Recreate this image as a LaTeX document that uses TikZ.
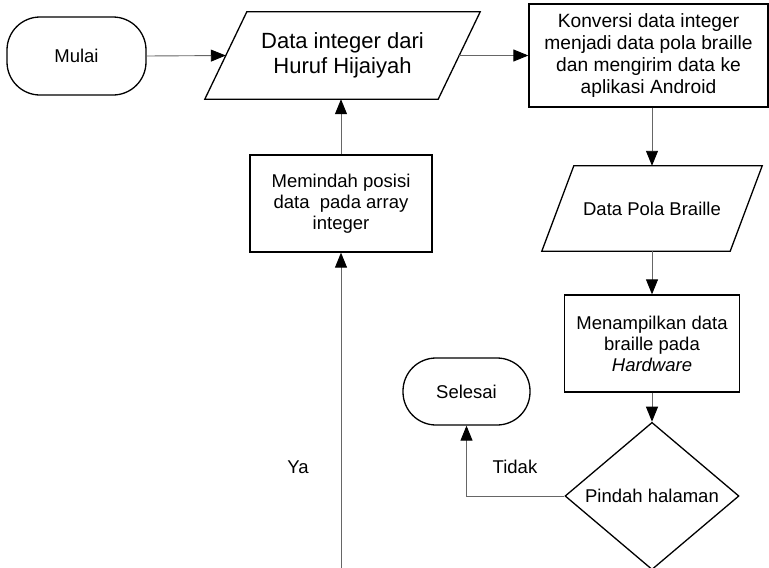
\documentclass[tikz,border=0pt]{standalone}
\usepackage{fontspec}
\setmainfont{Liberation Sans}
\usetikzlibrary{shapes.geometric,arrows.meta}

\tikzset{
    txt/.style={font=\fontsize{18.5}{21}\selectfont, align=center},
    shapeline/.style={draw, line width=1.3pt},
    terminal/.style={txt, shapeline, rectangle, rounded corners=33pt, inner sep=0pt},
    prosesbox/.style={txt, shapeline, rectangle, inner sep=0pt},
    databox/.style={txt, rectangle, inner sep=0pt},
    decisionbox/.style={txt, shapeline, diamond, inner sep=0pt},
    flow/.style={draw=black!60, line width=0.9pt, -{Triangle[length=15pt,width=12pt,color=black]}},
    plainflow/.style={draw=black!60, line width=0.9pt},
    labeltxt/.style={txt, fill=white, inner sep=2pt}
}

\begin{document}
\begin{tikzpicture}[x=1pt, y=-1pt]

    \useasboundingbox (0,0) rectangle (769,568);

    % bentuk
    \node[terminal, minimum width=139pt, minimum height=78pt] (mulai) at (76.5,56) {Mulai};

    \node[databox, minimum width=233pt, minimum height=87pt, font=\fontsize{22}{25}\selectfont]
          (dataint) at (342.5,55.5) {Data integer dari\\Huruf Hijaiyah};

    \node[prosesbox, minimum width=239pt, minimum height=103pt, font=\fontsize{19.2}{22}\selectfont]
          (konversi) at (648.5,55.5)
          {Konversi data integer\\menjadi data pola braille\\dan mengirim data ke\\aplikasi Android};

    \node[prosesbox, minimum width=182pt, minimum height=97pt] (pindah) at (341,203.5)
          {Memindah posisi\\data\ \ pada array\\integer};

    \node[databox, minimum width=188pt, minimum height=85pt] (polabraille) at (652,208.5)
          {Data Pola Braille};

    \node[prosesbox, minimum width=175pt, minimum height=97pt] (tampil) at (652,343.5)
          {Menampilkan data\\braille pada\\\textit{Hardware}};

    \node[terminal, minimum width=127pt, minimum height=67pt] (selesai) at (466.5,391.5) {Selesai};

    \node[decisionbox, minimum width=174pt, minimum height=96pt] (halaman) at (652,496)
          {Pindah halaman};

    % jajar genjang untuk data
    \foreach \nm/\sl in {dataint/21, polabraille/16}
        \draw[shapeline] ([xshift=-\sl pt]\nm.south west) -- ([xshift=\sl pt]\nm.north west)
            -- ([xshift=\sl pt]\nm.north east) -- ([xshift=-\sl pt]\nm.south east) -- cycle;

    \coordinate (yaend) at (341,568);
    \coordinate (loopend) at (652,568);

    % alur
    \draw[flow] (mulai.east) -- (dataint.west);
    \draw[flow] (dataint.east) -- (dataint.east -| konversi.west);
    \draw[flow] (polabraille.north |- konversi.south) -- (polabraille.north);
    \draw[flow] (polabraille.south) -- (tampil.north);
    \draw[flow] (tampil.south) -- (halaman.north);
    \draw[flow] (halaman.west) -| (selesai.south);
    \draw[plainflow] (halaman.south) -- (loopend);
    \draw[flow] (yaend) -- (pindah.south);
    \draw[flow] (pindah.north) -- (pindah.north |- dataint.south);

    \node[labeltxt] (tidak) at (515,467) {Tidak};
    \node[labeltxt] (ya) at (298,467) {Ya};

\end{tikzpicture}
\end{document}
